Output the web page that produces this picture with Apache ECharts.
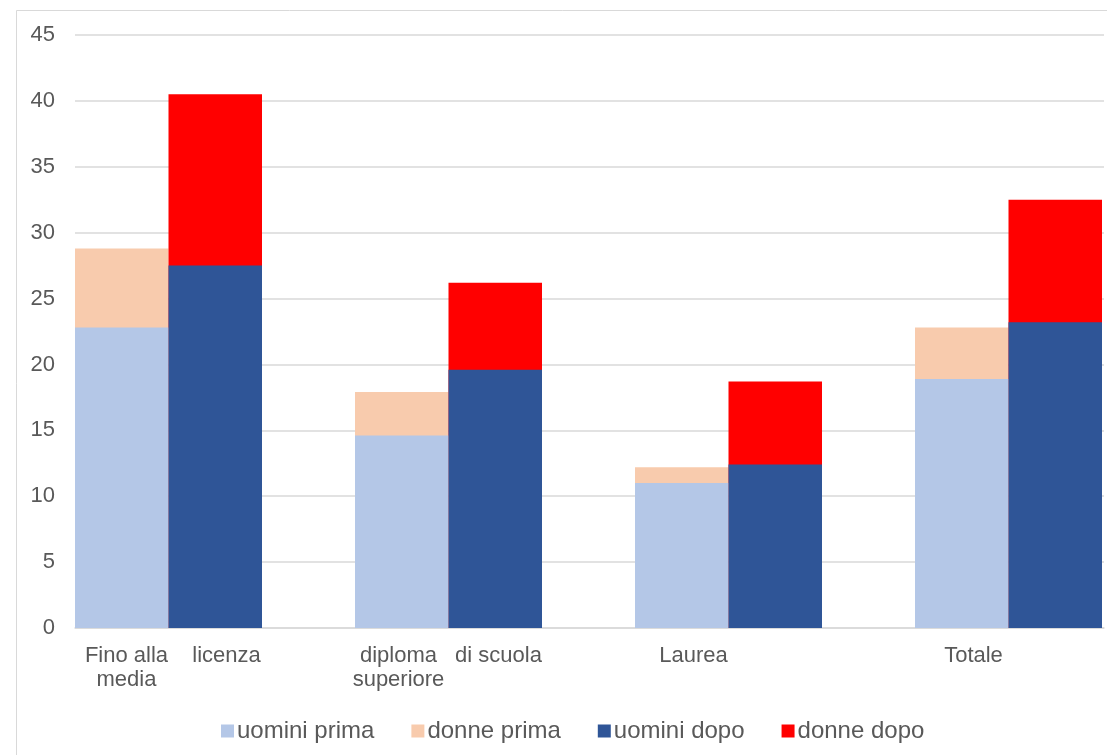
<!DOCTYPE html>
<html>
<head>
<meta charset="utf-8">
<script src="https://cdn.jsdelivr.net/npm/echarts@6/dist/echarts.min.js"></script>
<style>
html,body{margin:0;padding:0;background:#fff;}
#c{width:1107px;height:755px;}
</style>
</head>
<body>
<div id="c"></div>
<script>
// Data
var categories = ['Fino alla licenza media', 'diploma di scuola superiore', 'Laurea', 'Totale'];
var uominiPrima = [22.8, 14.6, 11.0, 18.9];
var donnePrima  = [28.8, 17.9, 12.2, 22.8];
var uominiDopo  = [27.5, 19.6, 12.4, 23.2];
var donneDopo   = [40.5, 26.2, 18.7, 32.5];
var yTicks = [0, 5, 10, 15, 20, 25, 30, 35, 40, 45];

var labelLines = {
  'Fino alla licenza media': '{p| }{a|Fino alla}{b|licenza}\n{p| }{a|media}{b| }',
  'diploma di scuola superiore': '{a|diploma}{b|di scuola}\n{a|superiore}{b| }',
  'Laurea': '{c|Laurea}{d| }',
  'Totale': '{c|Totale}{d| }'
};

var textColor = '#595959';
var fontFam = '"Liberation Sans", Arial, sans-serif';
var chart = echarts.init(document.getElementById('c'));
var barW = 93.5;

function rs(w) {
  return { width: w, align: 'center', fontSize: 22, lineHeight: 24, color: textColor, fontFamily: fontFam };
}

chart.setOption({
  animation: false,
  backgroundColor: '#ffffff',
  graphic: [{
    type: 'rect', z: -10,
    shape: { x: 16.5, y: 10.5, width: 1200, height: 800 },
    style: { fill: 'none', stroke: '#d9d9d9', lineWidth: 1 }
  }],
  legend: {
    left: 216, top: 714,
    itemWidth: 13, itemHeight: 13, itemGap: 37,
    icon: 'rect',
    data: ['uomini prima', 'donne prima', 'uomini dopo', 'donne dopo'],
    textStyle: { color: textColor, fontSize: 24, fontFamily: fontFam, padding: [0, 0, 0, -2] }
  },
  grid: [
    { left: 75, right: 3, top: 35, bottom: 127, containLabel: false, outerBoundsMode: 'none' },
    { left: 28.5, width: 1120, top: 35, bottom: 127, containLabel: false, outerBoundsMode: 'none' }
  ],
  xAxis: [
    { type: 'category', gridIndex: 0, data: categories, axisTick: { show: false },
      axisLabel: { show: false }, axisLine: { lineStyle: { color: '#d9d9d9', width: 1.5 } }, splitLine: { show: false } },
    { type: 'category', gridIndex: 1, data: categories, axisTick: { show: false },
      axisLine: { show: false },
      axisLabel: {
        interval: 0, margin: 16,
        formatter: function (v) { return labelLines[v]; },
        rich: { a: rs(100), b: rs(100), c: rs(130), d: rs(70), p: rs(16) }
      } },
    { type: 'category', gridIndex: 1, data: categories, position: 'top', show: false }
  ],
  yAxis: [
    { type: 'value', gridIndex: 0, min: yTicks[0], max: yTicks[yTicks.length - 1], interval: 5,
      axisLine: { show: false }, axisTick: { show: false },
      axisLabel: { margin: 20, color: textColor, fontSize: 22, fontFamily: fontFam },
      splitLine: { lineStyle: { color: '#d9d9d9', width: 1.5 } } },
    { type: 'value', gridIndex: 1, min: yTicks[0], max: yTicks[yTicks.length - 1], show: false, splitLine: { show: false } }
  ],
  series: [
    { name: 'donne prima', type: 'bar', xAxisIndex: 1, yAxisIndex: 1, data: donnePrima,
      barWidth: barW, barGap: '0%', itemStyle: { color: '#F8CBAD' } },
    { name: 'donne dopo', type: 'bar', xAxisIndex: 1, yAxisIndex: 1, data: donneDopo,
      barWidth: barW, barGap: '0%', itemStyle: { color: '#FF0000' } },
    { name: 'uomini prima', type: 'bar', xAxisIndex: 2, yAxisIndex: 1, data: uominiPrima,
      barWidth: barW, barGap: '0%', itemStyle: { color: '#B4C7E7' } },
    { name: 'uomini dopo', type: 'bar', xAxisIndex: 2, yAxisIndex: 1, data: uominiDopo,
      barWidth: barW, barGap: '0%', itemStyle: { color: '#2F5597' } }
  ]
});
</script>
</body>
</html>
